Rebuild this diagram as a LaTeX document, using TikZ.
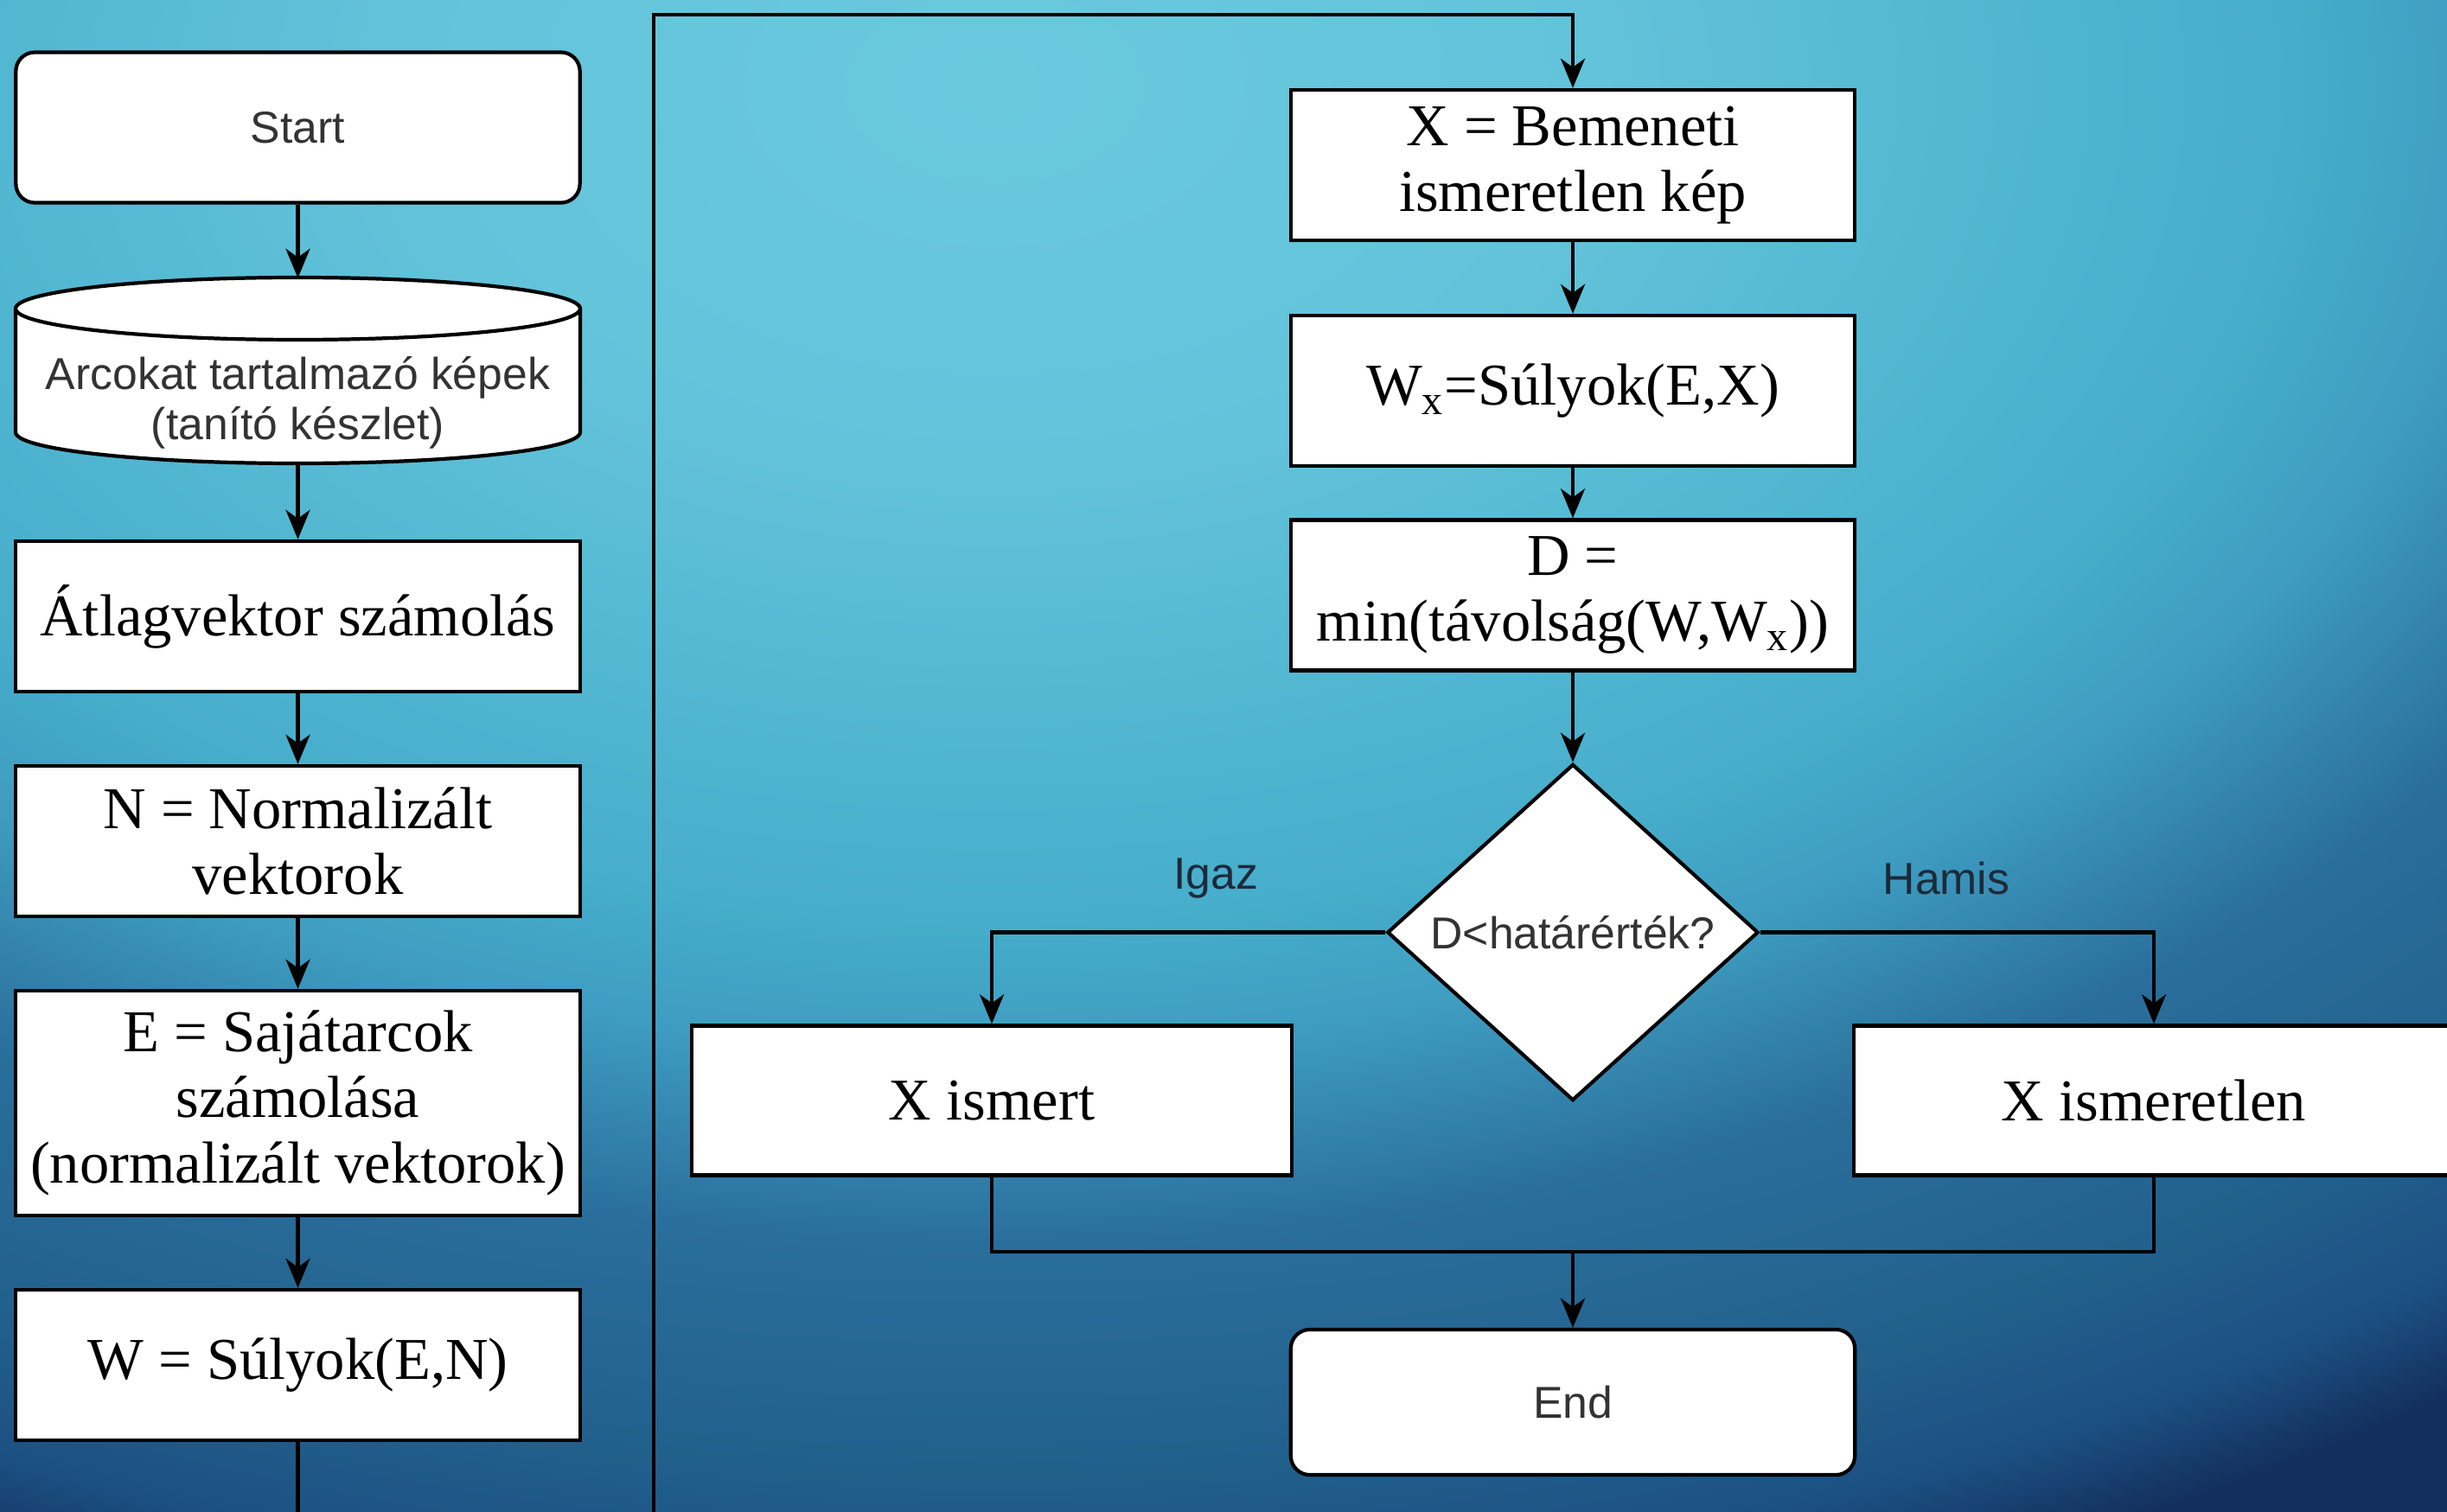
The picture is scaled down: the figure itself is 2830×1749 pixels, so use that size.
\documentclass[tikz,border=0pt]{standalone}
\usepackage{fontspec}
\setmainfont{Liberation Serif}
\newfontfamily\sansfam{Liberation Sans}
\usetikzlibrary{shapes.geometric,arrows.meta}
\definecolor{bgA}{HTML}{6AC9DD}
\definecolor{bgB}{HTML}{62C3DA}
\definecolor{bgC}{HTML}{46ADCB}
\definecolor{bgD}{HTML}{3E9CC0}
\definecolor{bgE}{HTML}{2A6E9B}
\definecolor{bgF}{HTML}{22608C}
\definecolor{bgG}{HTML}{1C5083}
\definecolor{bgH}{HTML}{132F5C}
\definecolor{sanscol}{HTML}{333333}
\definecolor{lblcol}{HTML}{1C2A3A}
\pgfdeclareradialshading{bgshade}{\pgfpoint{0bp}{0bp}}{color(0bp)=(bgA); color(6bp)=(bgB); color(13bp)=(bgC); color(15bp)=(bgD); color(18bp)=(bgE); color(21.5bp)=(bgF); color(23.5bp)=(bgG); color(25bp)=(bgH); color(50bp)=(bgH)}
\newcommand\serf{\fontsize{19.5}{21.5}\selectfont}
\newcommand\sanf{\sansfam\fontsize{14.7}{16.5}\selectfont}
\begin{document}
\begin{tikzpicture}[x=0.01cm,y=0.01cm,
  box/.style={draw=black, fill=white, line width=1.2pt, minimum width=6.52cm, minimum height=1.74cm, align=center, font=\serf, inner sep=2pt},
  term/.style={box, rounded corners=0.22cm, font=\sanf, text=sanscol},
  cylbody/.style={draw=black, fill=white, line width=1.2pt},
  decision/.style={diamond, draw=black, fill=white, line width=1.2pt, minimum width=4.29cm, minimum height=3.89cm, inner sep=0pt, font=\sanf, text=sanscol},
  lbl/.style={font=\sanf, text=lblcol},
  conn/.style={line width=1.2pt, draw=black},
  arr/.style={conn, -{Stealth[length=0.34cm,width=0.28cm,inset=0.1cm]}}
]
\useasboundingbox (0,0) rectangle (2830,-1749);
\clip (0,0) rectangle (2830,-1749);
\fill[bgH] (0,0) rectangle (2830,-1749);
\shade[shading=bgshade] (1150,-100) ellipse [x radius=2900, y radius=1860];

% left column
\node[term] (start) at (344.5,-147.5) {Start};
\path[cylbody] (18,-357) -- (18,-500) arc[start angle=180,end angle=360,x radius=326.5,y radius=36] -- (671,-357) arc[start angle=0,end angle=180,x radius=326.5,y radius=36] -- cycle;
\draw[line width=1.2pt] (18,-357) arc[start angle=180,end angle=360,x radius=326.5,y radius=36];
\node[font=\sanf, text=sanscol, align=center, minimum width=6.52cm, minimum height=1.43cm, inner sep=0pt] (db) at (344.5,-466) {Arcokat tartalmazó képek\\(tanító készlet)};
\node[box] (avg) at (344.5,-713) {Átlagvektor számolás};
\node[box] (norm) at (344.5,-973) {N = Normalizált\\vektorok};
\node[box, minimum height=2.6cm] (eig) at (344.5,-1276) {E = Sajátarcok\\számolása\\(normalizált vektorok)};
\node[box] (wgt) at (344.5,-1579) {W = Súlyok(E,N)};

% right column
\node[box] (xin) at (1819,-191) {X = Bemeneti\\ismeretlen kép};
\node[box] (wx) at (1819,-452) {W\textsubscript{x}=Súlyok(E,X)};
\node[box] (dd) at (1819,-688.5) {D =\\min(távolság(W,W\textsubscript{x}))};
\node[decision] (dec) at (1819,-1078.5) {D<határérték?};
\node[box, minimum width=6.94cm, minimum height=1.73cm] (ism) at (1147,-1273) {X ismert};
\node[box, minimum width=6.94cm, minimum height=1.73cm] (ismn) at (2491,-1273) {X ismeretlen};
\node[term, minimum height=1.68cm] (end) at (1819,-1622) {End};
\node[lbl] (igaz) at (1406,-1016) {Igaz};
\node[lbl] (hamis) at (2251,-1016) {Hamis};

\coordinate (lb) at (756,-1800);
\coordinate (lt) at (756,-17);
\coordinate (mg) at (1819,-1448);

% connectors
\draw[arr] (start) -- ([yshift=0.72cm]db.north);
\draw[arr] (db) -- (avg);
\draw[arr] (avg) -- (norm);
\draw[arr] (norm) -- (eig);
\draw[arr] (eig) -- (wgt);
\draw[arr] (wgt.south) |- (lb) -- (lt) -| (xin.north);
\draw[arr] (xin) -- (wx);
\draw[arr] (wx) -- (dd);
\draw[arr] (dd) -- (dec);
\draw[arr] (dec.west) -| (ism.north);
\draw[arr] (dec.east) -| (ismn.north);
\draw[conn] (ism.south) |- (mg);
\draw[conn] (ismn.south) |- (mg);
\draw[arr] (mg) -- (end);
\end{tikzpicture}
\end{document}
